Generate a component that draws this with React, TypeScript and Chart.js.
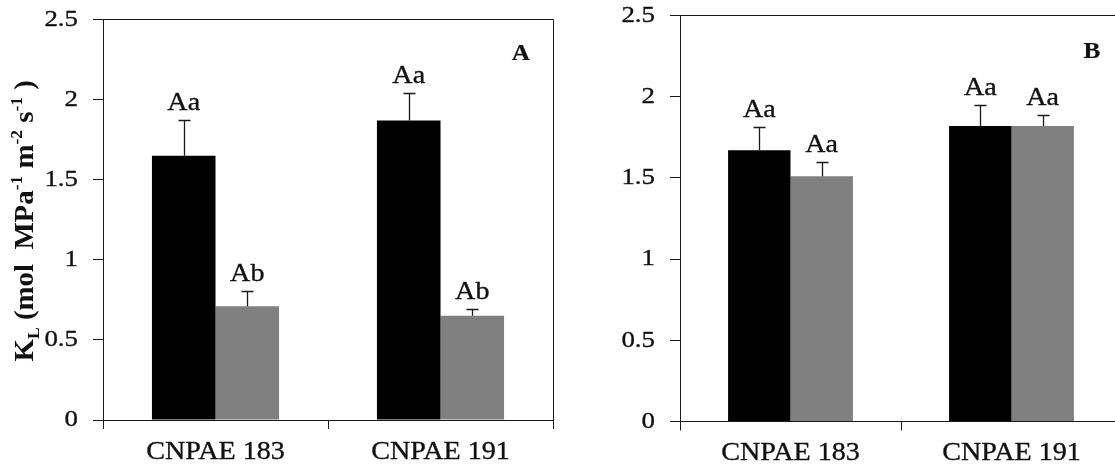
import React, { useEffect, useRef } from 'react';
import { Chart, registerables } from 'chart.js';

Chart.register(...registerables);

// ---------------- data ----------------
const categories = ['CNPAE 183', 'CNPAE 191'];
const seriesNames = ['Treatment 1', 'Treatment 2'];
const yTickValues = [0, 0.5, 1, 1.5, 2, 2.5];
const yTickLabels = ['0', '0.5', '1', '1.5', '2', '2.5'];

// Panel A
const aBlack = [1.65, 1.87];
const aBlackErr = [0.22, 0.17];
const aGray = [0.71, 0.65];
const aGrayErr = [0.095, 0.04];
const aBlackLetters = ['Aa', 'Aa'];
const aGrayLetters = ['Ab', 'Ab'];

// Panel B
const bBlack = [1.67, 1.82];
const bBlackErr = [0.145, 0.13];
const bGray = [1.51, 1.82];
const bGrayErr = [0.09, 0.065];
const bBlackLetters = ['Aa', 'Aa'];
const bGrayLetters = ['Aa', 'Aa'];

const panelTitles = ['A', 'B'];

// ---------------- styles ----------------
const SERIF = '"Liberation Serif", "Times New Roman", serif';
const AXIS = '#1a1a1a';
const TEXT = '#111';
const BAR_COLORS = ['#000000', '#808080'];

function drawStretched(
  ctx: CanvasRenderingContext2D,
  text: string,
  x: number,
  y: number,
  font: string,
  sx: number,
  align: CanvasTextAlign,
  baseline: CanvasTextBaseline,
  weight = 0.35
) {
  ctx.save();
  ctx.font = font;
  ctx.fillStyle = TEXT;
  ctx.strokeStyle = TEXT;
  ctx.lineWidth = weight;
  ctx.textAlign = align;
  ctx.textBaseline = baseline;
  ctx.translate(x, y);
  ctx.scale(sx, 1);
  ctx.fillText(text, 0, 0);
  if (weight > 0) ctx.strokeText(text, 0, 0);
  ctx.restore();
}

function drawYTitle(ctx: CanvasRenderingContext2D, cx: number, cy: number) {
  const main = `bold 28px ${SERIF}`;
  const small = `bold 17px ${SERIF}`;
  const pieces = [
    { t: 'K', f: main, dy: 0 },
    { t: 'L', f: small, dy: 6 },
    { t: ' (mol  MPa', f: main, dy: 0 },
    { t: '-1', f: small, dy: -11 },
    { t: ' m', f: main, dy: 0 },
    { t: '-2', f: small, dy: -11 },
    { t: ' s', f: main, dy: 0 },
    { t: '-1', f: small, dy: -11 },
    { t: ' )', f: main, dy: 0 },
  ];
  ctx.save();
  let total = 0;
  const widths = pieces.map((p) => {
    ctx.font = p.f;
    const w = ctx.measureText(p.t).width;
    total += w;
    return w;
  });
  ctx.translate(cx, cy);
  ctx.rotate(-Math.PI / 2);
  ctx.scale(1.03, 1);
  ctx.fillStyle = TEXT;
  ctx.textBaseline = 'alphabetic';
  ctx.textAlign = 'left';
  let x = -total / 2;
  pieces.forEach((p, i) => {
    ctx.font = p.f;
    ctx.fillText(p.t, x, 9 + p.dy);
    x += widths[i];
  });
  ctx.restore();
}

type PanelCfg = {
  black: number[];
  blackErr: number[];
  gray: number[];
  grayErr: number[];
  blackLetters: string[];
  grayLetters: string[];
  title: string;
  showYTitle: boolean;
  canvasW: number;
  yW: number;
  padRight: number;
  padTop: number;
  xH: number;
  titleDx: number;
  titleDy: number;
};

function makePlugin(cfg: PanelCfg) {
  return {
    id: 'panelExtras',
    afterDatasetsDraw(chart: any) {
      const ctx: CanvasRenderingContext2D = chart.ctx;
      const yScale = chart.scales.y;
      const errs = [cfg.blackErr, cfg.grayErr];
      ctx.save();
      ctx.strokeStyle = AXIS;
      ctx.lineWidth = 1.3;
      chart.data.datasets.forEach((ds: any, di: number) => {
        const meta = chart.getDatasetMeta(di);
        meta.data.forEach((bar: any, j: number) => {
          const v = ds.data[j];
          const top = yScale.getPixelForValue(v + errs[di][j]);
          const x = Math.round(bar.x) + 0.5;
          ctx.beginPath();
          ctx.moveTo(x, bar.y);
          ctx.lineTo(x, top);
          ctx.moveTo(x - 6, Math.round(top) + 0.5);
          ctx.lineTo(x + 6, Math.round(top) + 0.5);
          ctx.stroke();
        });
      });
      ctx.restore();
    },
    afterDraw(chart: any) {
      const ctx: CanvasRenderingContext2D = chart.ctx;
      const area = chart.chartArea;
      const xScale = chart.scales.x;
      const yScale = chart.scales.y;
      // top and right frame lines
      ctx.save();
      ctx.strokeStyle = AXIS;
      ctx.lineWidth = 1;
      ctx.beginPath();
      const t = Math.round(area.top - 0.5) + 0.5;
      const r = Math.round(area.right - 0.5) + 0.5;
      ctx.moveTo(area.left, t);
      ctx.lineTo(r, t);
      ctx.lineTo(r, area.bottom);
      ctx.stroke();
      ctx.restore();

      // y tick labels
      yScale.ticks.forEach((tk: any, i: number) => {
        const py = yScale.getPixelForValue(tk.value);
        drawStretched(ctx, yTickLabels[i], area.left - 25, py, `24px ${SERIF}`, 1.12, 'right', 'middle');
      });
      // category labels
      categories.forEach((c, i) => {
        const px = xScale.getPixelForValue(i);
        drawStretched(ctx, c, px, area.bottom + 32, `26px ${SERIF}`, 1.08, 'center', 'middle');
      });
      // significance letters
      const errs = [cfg.blackErr, cfg.grayErr];
      const letters = [cfg.blackLetters, cfg.grayLetters];
      chart.data.datasets.forEach((ds: any, di: number) => {
        const meta = chart.getDatasetMeta(di);
        meta.data.forEach((bar: any, j: number) => {
          const top = yScale.getPixelForValue(ds.data[j] + errs[di][j]);
          drawStretched(ctx, letters[di][j], bar.x, top - 10, `26px ${SERIF}`, 1.08, 'center', 'alphabetic');
        });
      });
      // panel letter
      drawStretched(ctx, cfg.title, area.right + cfg.titleDx, area.top + cfg.titleDy, `bold 23px ${SERIF}`, 1.1, 'center', 'middle', 0.2);
      if (cfg.showYTitle) {
        drawYTitle(ctx, 24, (area.top + area.bottom) / 2 + 1);
      }
    },
  };
}

function makeConfig(cfg: PanelCfg): any {
  return {
    type: 'bar',
    data: {
      labels: categories,
      datasets: [
        {
          label: seriesNames[0],
          data: cfg.black,
          backgroundColor: BAR_COLORS[0],
          borderWidth: 0,
          categoryPercentage: 0.565,
          barPercentage: 1,
        },
        {
          label: seriesNames[1],
          data: cfg.gray,
          backgroundColor: BAR_COLORS[1],
          borderWidth: 0,
          categoryPercentage: 0.565,
          barPercentage: 1,
        },
      ],
    },
    options: {
      responsive: false,
      animation: false,
      devicePixelRatio: 1,
      layout: { padding: { left: 0, right: cfg.padRight, top: cfg.padTop, bottom: 0 } },
      plugins: { legend: { display: false }, tooltip: { enabled: false } },
      scales: {
        x: {
          type: 'category',
          offset: true,
          grid: {
            offset: true,
            drawOnChartArea: false,
            drawTicks: true,
            tickLength: 9,
            color: AXIS,
            lineWidth: 1,
          },
          border: { display: true, color: AXIS, width: 1 },
          ticks: { display: false },
          afterFit: (s: any) => {
            s.height = cfg.xH;
          },
        },
        y: {
          type: 'linear',
          min: yTickValues[0],
          max: yTickValues[yTickValues.length - 1],
          afterBuildTicks: (s: any) => {
            s.ticks = yTickValues.map((v) => ({ value: v }));
          },
          grid: {
            drawOnChartArea: false,
            drawTicks: true,
            tickLength: 10,
            color: AXIS,
            lineWidth: 1,
          },
          border: { display: true, color: AXIS, width: 1 },
          ticks: { display: false },
          afterFit: (s: any) => {
            s.width = cfg.yW;
          },
        },
      },
    },
    plugins: [makePlugin(cfg)],
  };
}

const panelA: PanelCfg = {
  black: aBlack,
  blackErr: aBlackErr,
  gray: aGray,
  grayErr: aGrayErr,
  blackLetters: aBlackLetters,
  grayLetters: aGrayLetters,
  title: panelTitles[0],
  showYTitle: true,
  canvasW: 560,
  yW: 103,
  padRight: 7,
  padTop: 19.5,
  xH: 49,
  titleDx: -32,
  titleDy: 35,
};

const panelB: PanelCfg = {
  black: bBlack,
  blackErr: bBlackErr,
  gray: bGray,
  grayErr: bGrayErr,
  blackLetters: bBlackLetters,
  grayLetters: bGrayLetters,
  title: panelTitles[1],
  showYTitle: false,
  canvasW: 620,
  yW: 120,
  padRight: 58,
  padTop: 15.5,
  xH: 47.5,
  titleDx: -30,
  titleDy: 37,
};

function Panel({ cfg, left, clipW }: { cfg: PanelCfg; left: number; clipW: number }) {
  const ref = useRef<HTMLCanvasElement | null>(null);
  useEffect(() => {
    if (!ref.current) return;
    const chart = new Chart(ref.current, makeConfig(cfg));
    return () => chart.destroy();
  }, [cfg]);
  return (
    <div
      style={{
        position: 'absolute',
        left,
        top: 0,
        width: clipW,
        height: 469,
        overflow: 'hidden',
      }}
    >
      <canvas
        ref={ref}
        width={cfg.canvasW}
        height={469}
        style={{ width: cfg.canvasW, height: 469, display: 'block' }}
      />
    </div>
  );
}

export default function App() {
  return (
    <div
      style={{
        position: 'absolute',
        left: 0,
        top: 0,
        width: 1115,
        height: 469,
        background: '#fff',
        overflow: 'hidden',
      }}
    >
      <Panel cfg={panelA} left={0} clipW={560} />
      <Panel cfg={panelB} left={560} clipW={555} />
    </div>
  );
}
